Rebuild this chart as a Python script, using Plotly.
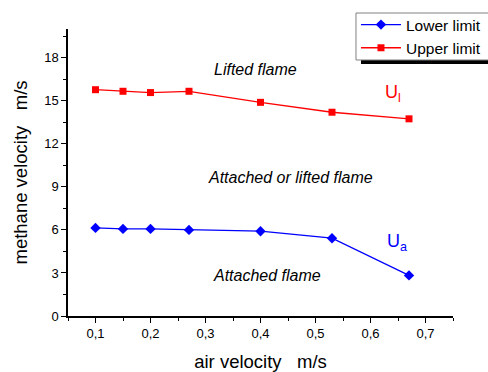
import plotly.graph_objects as go

air_velocity = [0.1, 0.15, 0.2, 0.27, 0.4, 0.53, 0.67]
lower_limit = [6.14, 6.07, 6.07, 6.0, 5.91, 5.42, 2.83]
upper_limit = [15.77, 15.66, 15.57, 15.66, 14.89, 14.2, 13.74]

fig = go.Figure()
fig.add_trace(go.Scatter(x=air_velocity, y=lower_limit, mode="lines+markers", name="Lower limit",
                         line=dict(color="#0000ff", width=1.3),
                         marker=dict(symbol="diamond", size=8, color="#0000ff")))
fig.add_trace(go.Scatter(x=air_velocity, y=upper_limit, mode="lines+markers", name="Upper limit",
                         line=dict(color="#ff0000", width=1.3),
                         marker=dict(symbol="square", size=7, color="#ff0000")))

font_family = "Liberation Sans, Arial, sans-serif"
ann_font = dict(family=font_family, size=16, color="#000000")
annotations = [
    dict(x=0.391, y=17.16, text="<i>Lifted flame</i>", font=ann_font),
    dict(x=0.455, y=9.68, text="<i>Attached or lifted flame</i>", font=ann_font),
    dict(x=0.412, y=2.85, text="<i>Attached flame</i>", font=ann_font),
    dict(x=0.64, y=15.5, text="U<sub>l</sub>", font=dict(family=font_family, size=18, color="#ff0000")),
    dict(x=0.648, y=5.1, text="U<sub>a</sub>", font=dict(family=font_family, size=18, color="#0000ff")),
]
for a in annotations:
    a.update(xref="x", yref="y", showarrow=False)

fig.update_layout(
    width=488, height=372,
    margin=dict(l=68, r=35, t=29, b=56, autoexpand=False),
    plot_bgcolor="white", paper_bgcolor="white",
    separators=",.",
    font=dict(family=font_family, size=13, color="#000000"),
    annotations=annotations,
    showlegend=True,
    legend=dict(x=0.748, y=1.073, xanchor="left", yanchor="top",
                bgcolor="rgba(0,0,0,0)", borderwidth=0,
                font=dict(family=font_family, size=15.5),
                tracegroupgap=0, itemwidth=40),
    xaxis=dict(range=[0.05, 0.75], tick0=0.1, dtick=0.1, tickformat=".1f",
               showgrid=False, zeroline=False, showline=True, linecolor="#000000", linewidth=1.5,
               ticks="outside", ticklen=5, tickcolor="#000000",
               minor=dict(dtick=0.05, tick0=0.05, ticks="outside", ticklen=3, tickcolor="#000000"),
               title=dict(text="air velocity   m/s", font=dict(size=18.5), standoff=18),
               tickfont=dict(size=13)),
    yaxis=dict(range=[0, 20], tick0=0, dtick=3,
               showgrid=False, zeroline=False, showline=True, linecolor="#000000", linewidth=1.5,
               ticks="outside", ticklen=5, tickcolor="#000000",
               minor=dict(dtick=1.5, tick0=0, ticks="outside", ticklen=3, tickcolor="#000000"),
               title=dict(text="methane velocity   m/s", font=dict(size=18.5), standoff=12),
               tickfont=dict(size=13)),
)
# legend shadow (pixel-sized, anchored at paper coords), then white legend frame on top
fig.add_shape(type="rect", xref="paper", yref="paper",
              xsizemode="pixel", ysizemode="pixel", xanchor=0.761, yanchor=0.892,
              x0=0, x1=140, y0=-4, y1=30,
              fillcolor="#000000", line=dict(width=0), layer="above")
fig.add_shape(type="rect", xref="paper", yref="paper", x0=0.748, x1=1.2, y0=0.892, y1=1.0557,
              fillcolor="white", line=dict(color="#808080", width=1), layer="above")
fig.write_html("out.html")
